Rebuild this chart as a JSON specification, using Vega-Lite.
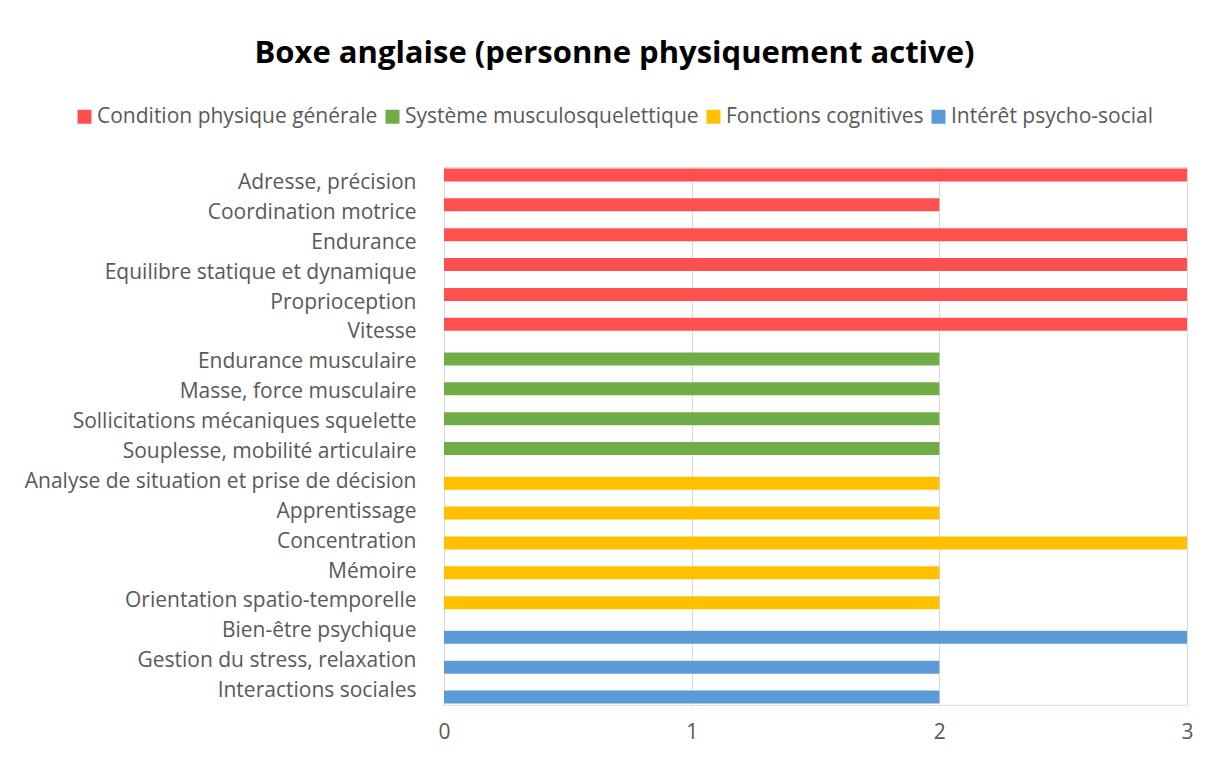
{
  "$schema": "https://vega.github.io/schema/vega-lite/v6.json",
  "autosize": "none",
  "width": 743,
  "height": 538,
  "padding": {"left": 444, "top": 167, "right": 30, "bottom": 56},
  "background": "white",
  "title": {
    "text": "Boxe anglaise (personne physiquement active)",
    "font": "Open Sans",
    "fontSize": 31,
    "fontWeight": "bold",
    "color": "#000000",
    "anchor": "middle",
    "frame": "group",
    "dx": -201,
    "offset": 36
  },
  "data": {
    "values": [
      {"label": "Adresse, précision", "series": "Condition physique générale", "value": 3},
      {"label": "Coordination motrice", "series": "Condition physique générale", "value": 2},
      {"label": "Endurance", "series": "Condition physique générale", "value": 3},
      {"label": "Equilibre statique et dynamique", "series": "Condition physique générale", "value": 3},
      {"label": "Proprioception", "series": "Condition physique générale", "value": 3},
      {"label": "Vitesse", "series": "Condition physique générale", "value": 3},
      {"label": "Endurance musculaire ", "series": "Système musculosquelettique", "value": 2},
      {"label": "Masse,  force musculaire", "series": "Système musculosquelettique", "value": 2},
      {"label": "Sollicitations mécaniques squelette", "series": "Système musculosquelettique", "value": 2},
      {"label": "Souplesse, mobilité articulaire", "series": "Système musculosquelettique", "value": 2},
      {"label": "Analyse de situation et prise de décision", "series": "Fonctions cognitives", "value": 2},
      {"label": "Apprentissage", "series": "Fonctions cognitives", "value": 2},
      {"label": "Concentration", "series": "Fonctions cognitives", "value": 3},
      {"label": "Mémoire", "series": "Fonctions cognitives", "value": 2},
      {"label": "Orientation spatio-temporelle", "series": "Fonctions cognitives", "value": 2},
      {"label": "Bien-être psychique", "series": "Intérêt psycho-social", "value": 3},
      {"label": "Gestion du stress, relaxation", "series": "Intérêt psycho-social", "value": 2},
      {"label": "Interactions sociales", "series": "Intérêt psycho-social", "value": 2}
    ]
  },
  "mark": {"type": "bar", "height": 13},
  "encoding": {
    "y": {
      "field": "label",
      "type": "nominal",
      "sort": null,
      "scale": {"paddingInner": 0.37, "paddingOuter": 0.185},
      "axis": {
        "title": null,
        "ticks": false,
        "domainColor": "#D9D9D9",
        "labelFont": "Open Sans",
        "labelFontSize": 21,
        "labelColor": "#595959",
        "labelPadding": 28,
        "labelOffset": 1,
        "labelLimit": 500
      }
    },
    "yOffset": {
      "field": "series",
      "type": "nominal",
      "sort": ["Condition physique générale", "Système musculosquelettique", "Fonctions cognitives", "Intérêt psycho-social"],
      "scale": {"paddingInner": 0, "paddingOuter": 0}
    },
    "x": {
      "field": "value",
      "type": "quantitative",
      "scale": {"domain": [0, 3], "nice": false},
      "axis": {
        "title": null,
        "values": [0, 1, 2, 3],
        "format": "d",
        "ticks": false,
        "domain": false,
        "labelFlush": false,
        "gridColor": "#D9D9D9",
        "labelFont": "Open Sans",
        "labelFontSize": 21,
        "labelColor": "#595959",
        "labelPadding": 16
      }
    },
    "color": {
      "field": "series",
      "type": "nominal",
      "sort": ["Condition physique générale", "Système musculosquelettique", "Fonctions cognitives", "Intérêt psycho-social"],
      "scale": {
        "domain": ["Condition physique générale", "Système musculosquelettique", "Fonctions cognitives", "Intérêt psycho-social"],
        "range": ["#FF5050", "#70AD47", "#FFC000", "#5B9BD5"]
      },
      "legend": {
        "title": null,
        "orient": "none",
        "direction": "horizontal",
        "legendX": -370,
        "legendY": -61,
        "symbolType": "square",
        "symbolSize": 196,
        "symbolStrokeWidth": 0,
        "symbolOpacity": 1,
        "labelFont": "Open Sans",
        "labelFontSize": 21,
        "labelColor": "#595959",
        "labelOffset": 2,
        "columnPadding": 4,
        "labelLimit": 400
      }
    }
  },
  "config": {
    "view": {"stroke": "#F6D5D5", "strokeWidth": 1}
  }
}
